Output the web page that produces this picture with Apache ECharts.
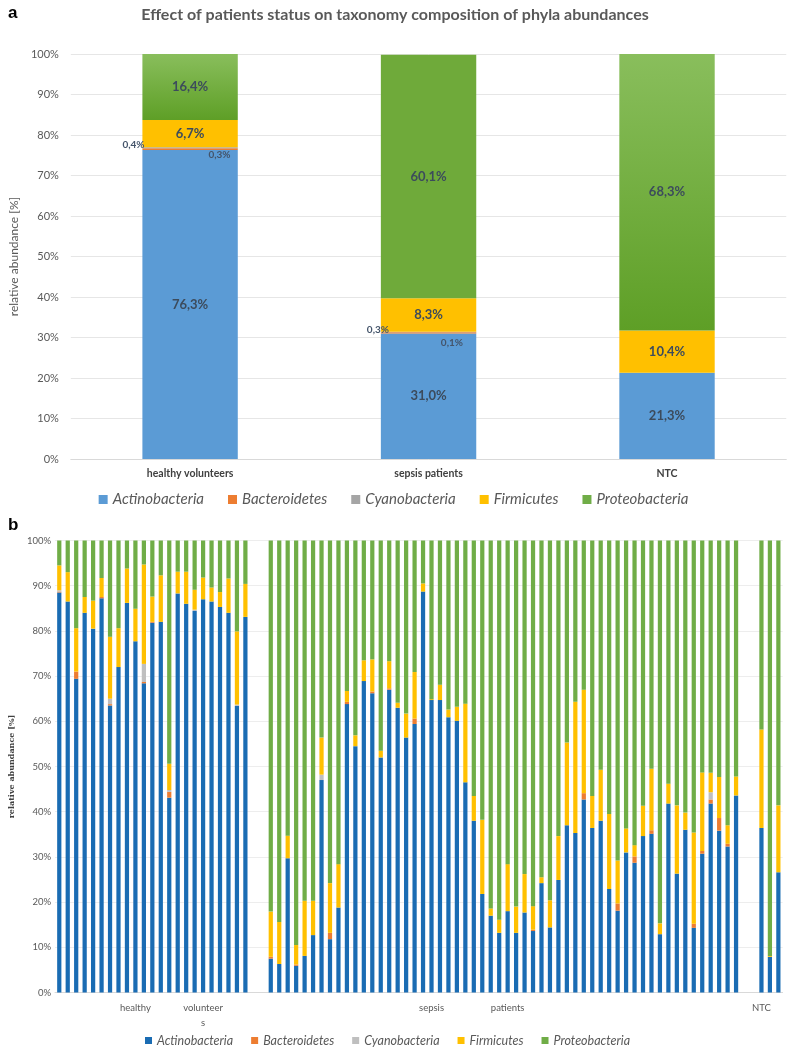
<!DOCTYPE html>
<html>
<head>
<meta charset="utf-8">
<script src="https://cdn.jsdelivr.net/npm/echarts@6/dist/echarts.min.js"></script>
<style>
  html, body { margin: 0; padding: 0; background: #fff; }
  #chart { width: 787px; height: 1049px; }
</style>
</head>
<body>
<div id="chart"></div>
<script>
// ---- panel a: mean composition per group ----
const groupsA = ["healthy volunteers", "sepsis patients", "NTC"];
const actA = [76.3, 31.0, 21.3];
const bacA = [0.4, 0.3, 0];
const cyaA = [0.3, 0.1, 0];
const firA = [6.7, 8.3, 10.4];
const proA = [16.4, 60.1, 68.3];

// ---- panel b: per sample ----
const actH = [88.5, 86.5, 69.4, 84.0, 80.5, 87.2, 63.5, 72.0, 86.2, 77.7, 68.4, 81.8, 82.0, 43.1, 88.3, 86.0, 84.4, 87.0, 86.5, 85.3, 84.0, 63.4, 83.1];
const bacH = [0.2, 0, 1.6, 0, 0, 0.3, 0.3, 0, 0, 0, 0.3, 0.2, 0, 1.3, 0, 0, 0, 0, 0, 0, 0, 0, 0];
const cyaH = [0.3, 0, 0, 0, 0, 0, 1.2, 0, 0, 0, 4.0, 0, 0, 0.4, 0, 0, 0.3, 0, 0, 0, 0, 0.3, 0];
const firH = [5.5, 6.5, 9.6, 3.5, 6.2, 4.2, 13.7, 8.6, 7.6, 7.2, 22.0, 5.6, 10.3, 5.8, 4.8, 7.1, 4.4, 4.8, 3.1, 3.3, 7.6, 16.2, 7.3];
const proH = [5.5, 7.0, 19.4, 12.5, 13.3, 8.3, 21.3, 19.4, 6.2, 15.1, 5.3, 12.4, 7.7, 49.4, 6.9, 6.9, 10.9, 8.2, 10.4, 11.4, 8.4, 20.1, 9.6];

const actS = [7.5, 6.3, 29.7, 5.9, 8.1, 12.7, 47.0, 11.8, 18.8, 63.8, 54.5, 68.9, 66.2, 52.0, 67.0, 63.0, 56.4, 59.4, 88.7, 64.7,
              64.7, 60.9, 60.1, 46.5, 38.0, 21.8, 17.0, 13.2, 18.0, 13.2, 17.7, 13.6, 24.2, 14.4, 24.9, 37.0, 35.3, 42.7, 36.4, 38.0,
              22.9, 18.1, 31.0, 28.7, 34.6, 35.1, 12.9, 41.8, 26.3, 36.0, 14.3, 30.7, 41.8, 35.8, 32.3, 43.6];
const bacS = [0.4, 0, 0, 0.3, 0, 0, 0, 1.4, 0, 0.5, 0, 0, 0.4, 0, 0.3, 0, 0, 1.2, 0, 0,
              0, 0, 0, 0, 0, 0, 0, 0, 0, 0, 0, 0.3, 0, 0, 0, 0, 0, 1.4, 0, 0,
              0, 1.6, 0, 1.4, 0, 0.8, 0, 0, 0, 0, 0.9, 0.6, 0.9, 2.8, 0.6, 0];
const cyaS = [0, 0, 0, 0, 0, 0, 1.2, 0, 0, 0, 0, 0, 0, 0, 0, 0, 0, 0, 0, 0,
              0, 0, 0, 0, 0, 0, 0, 0, 0, 0, 0, 0, 0, 0, 0, 0, 0, 0, 0, 0,
              0, 0, 0, 0, 0, 0, 0, 0, 0, 0, 0, 0, 1.6, 0, 0, 0];
const firS = [10.0, 9.3, 5.0, 4.3, 12.2, 7.6, 8.2, 11.0, 9.6, 2.4, 2.4, 4.6, 7.1, 1.5, 6.0, 1.1, 5.3, 10.3, 1.8, 0.2,
              3.4, 1.7, 3.1, 17.4, 5.5, 16.4, 1.6, 2.9, 10.4, 5.8, 8.5, 5.2, 1.3, 6.0, 9.7, 18.3, 29.0, 22.9, 7.1, 11.3,
              16.6, 9.5, 5.3, 2.5, 6.7, 13.6, 2.4, 4.4, 15.1, 3.8, 20.2, 17.4, 4.3, 9.1, 4.1, 4.2];
const proS = [82.1, 84.4, 65.3, 89.5, 79.7, 79.7, 43.6, 75.8, 71.6, 33.3, 43.1, 26.5, 26.3, 46.5, 26.7, 35.9, 38.3, 29.1, 9.5, 35.1,
              31.9, 37.4, 36.8, 36.1, 56.5, 61.8, 81.4, 83.9, 71.6, 81.0, 73.8, 80.9, 74.5, 79.6, 65.4, 44.7, 35.7, 33.0, 56.5, 50.7,
              60.5, 70.8, 63.7, 67.4, 58.7, 50.5, 84.7, 53.8, 58.6, 60.2, 64.6, 51.3, 51.4, 52.3, 63.0, 52.2];

const actN = [36.4, 7.9, 26.6];
const bacN = [0, 0, 0];
const cyaN = [0, 0, 0];
const firN = [21.8, 0.2, 14.8];
const proN = [41.8, 91.9, 58.6];

// group captions under panel b, keyed by category slot
const captionsB = { 9: "healthy", 17: "volunteer\ns", 44: "sepsis", 53: "patients", 83: "NTC" };

const phyla = ["Actinobacteria", "Bacteroidetes", "Cyanobacteria", "Firmicutes", "Proteobacteria"];
const colorsA = ["#5B9BD5", "#ED7D31", "#A5A5A5", "#FFC000", "#70AD47"];
const colorsB = ["#1A6CB3", "#ED7D31", "#BFBFBF", "#FFC000", "#70AD47"];

// healthy + 2 empty slots + sepsis + 2 empty slots + NTC
const join = (h, s, n) => [...h, null, null, ...s, null, null, ...n];
const seriesB = [
  join(actH, actS, actN),
  join(bacH, bacS, bacN),
  join(cyaH, cyaS, cyaN),
  join(firH, firS, firN),
  join(proH, proS, proN),
];
const catsB = seriesB[0].map((v, i) => "c" + i);

const seriesA = [actA, bacA, cyaA, firA, proA];

const fmt = (v) => (v ? v.toFixed(1).replace(".", ",") + "%" : "");
const font = "Lato, 'Open Sans', sans-serif";

const greenGrad = new echarts.graphic.LinearGradient(0, 0, 0, 1, [
  { offset: 0, color: "#89BE5C" },
  { offset: 1, color: "#5E9F26" },
]);

// outside label spots for the thin segments
const smallLabelPos = {
  1: [[-20, -4], [-14, -2], null],
  2: [[66, 8], [60, 11], null],
};

let chart = echarts.init(document.getElementById("chart"));

const seriesListA = phyla.map((name, s) => {
  const small = s === 1 || s === 2;
  const data = seriesA[s].map((v, i) => {
    const item = { value: v };
    if (s === 4 && i === 1) item.itemStyle = { color: "#6FAA3A" };
    if (small && smallLabelPos[s][i]) {
      item.label = { position: smallLabelPos[s][i], align: "left", verticalAlign: "middle" };
    }
    return item;
  });
  return {
    name: name,
    type: "bar",
    stack: "a",
    xAxisIndex: 0,
    yAxisIndex: 0,
    barWidth: "40%",
    itemStyle: { color: s === 4 ? greenGrad : colorsA[s] },
    label: {
      show: true,
      position: "inside",
      formatter: (p) => fmt(p.value),
      color: small ? "#44546A" : "#3C4B5C",
      fontFamily: font,
      fontWeight: "bold",
      fontSize: small ? 10 : 13,
    },
    data: data,
  };
});

const seriesListB = phyla.map((name, s) => ({
  name: name,
  type: "bar",
  stack: "b",
  xAxisIndex: 1,
  yAxisIndex: 1,
  barWidth: "50%",
  itemStyle: { color: colorsB[s] },
  data: seriesB[s],
}));

let option = {
  animation: false,
  textStyle: { fontFamily: font },
  title: [
    { text: "a", left: 3, top: 0, textStyle: { fontFamily: "'Liberation Sans', Arial", fontSize: 17, fontWeight: "bold", color: "#000" } },
    {
      text: "Effect of patients status on taxonomy composition of phyla abundances",
      left: 390, textAlign: "center", top: 2,
      textStyle: { fontFamily: font, fontSize: 16, fontWeight: "bold", color: "#595959" },
    },
    { text: "b", left: 3, top: 512, textStyle: { fontFamily: "'Liberation Sans', Arial", fontSize: 17, fontWeight: "bold", color: "#000" } },
  ],
  legend: [
    {
      top: 487,
      left: "center",
      icon: "rect",
      itemWidth: 9,
      itemHeight: 9,
      itemGap: 24,
      textStyle: { fontFamily: font, fontStyle: "italic", fontSize: 15, color: "#595959" },
      data: phyla.map((n, i) => ({ name: n, itemStyle: { color: colorsA[i] } })),
    },
    {
      top: 1029,
      left: 140,
      icon: "rect",
      itemWidth: 7,
      itemHeight: 7,
      itemGap: 18,
      textStyle: { fontFamily: font, fontStyle: "italic", fontSize: 12.5, color: "#595959" },
      data: phyla.map((n, i) => ({ name: n, itemStyle: { color: colorsB[i] } })),
    },
  ],
  grid: [
    { left: 58.75, right: 0.75, top: 54, bottom: 590 },
    { left: 45, right: 4.4, top: 540.5, bottom: 56.5 },
  ],
  xAxis: [
    {
      type: "category",
      gridIndex: 0,
      data: groupsA,
      axisTick: { show: false },
      axisLine: { lineStyle: { color: "#D9D9D9" } },
      axisLabel: { margin: 9, fontSize: 10.5, fontWeight: "bold", color: "#404040", fontFamily: font },
    },
    {
      type: "category",
      gridIndex: 1,
      data: catsB,
      axisTick: { show: false },
      axisLine: { lineStyle: { color: "#D9D9D9" } },
      axisLabel: {
        interval: 0,
        margin: 8,
        fontSize: 9.5,
        lineHeight: 15,
        color: "#595959",
        fontFamily: font,
        formatter: (v, i) => captionsB[i] || "",
      },
    },
  ],
  yAxis: [
    {
      type: "value",
      gridIndex: 0,
      min: 0,
      max: 100,
      interval: 10,
      name: "relative abundance [%]",
      nameLocation: "middle",
      nameGap: 44,
      nameTextStyle: { fontSize: 12, color: "#595959", fontFamily: font },
      axisLabel: { formatter: "{value}%", fontSize: 11, color: "#595959", margin: 12 },
      splitLine: { lineStyle: { color: "#E6E6E6" } },
    },
    {
      type: "value",
      gridIndex: 1,
      min: 0,
      max: 100,
      interval: 10,
      name: "relative abundance [%]",
      nameLocation: "middle",
      nameGap: 36,
      nameTextStyle: { fontSize: 8, fontWeight: "bold", color: "#404040", fontFamily: "'DejaVu Serif', serif" },
      axisLabel: { formatter: "{value}%", fontSize: 9.5, color: "#595959", margin: 4 },
      splitLine: { lineStyle: { color: "#EDEDED" } },
    },
  ],
  series: [...seriesListA, ...seriesListB],
};

option && chart.setOption(option);
</script>
</body>
</html>
